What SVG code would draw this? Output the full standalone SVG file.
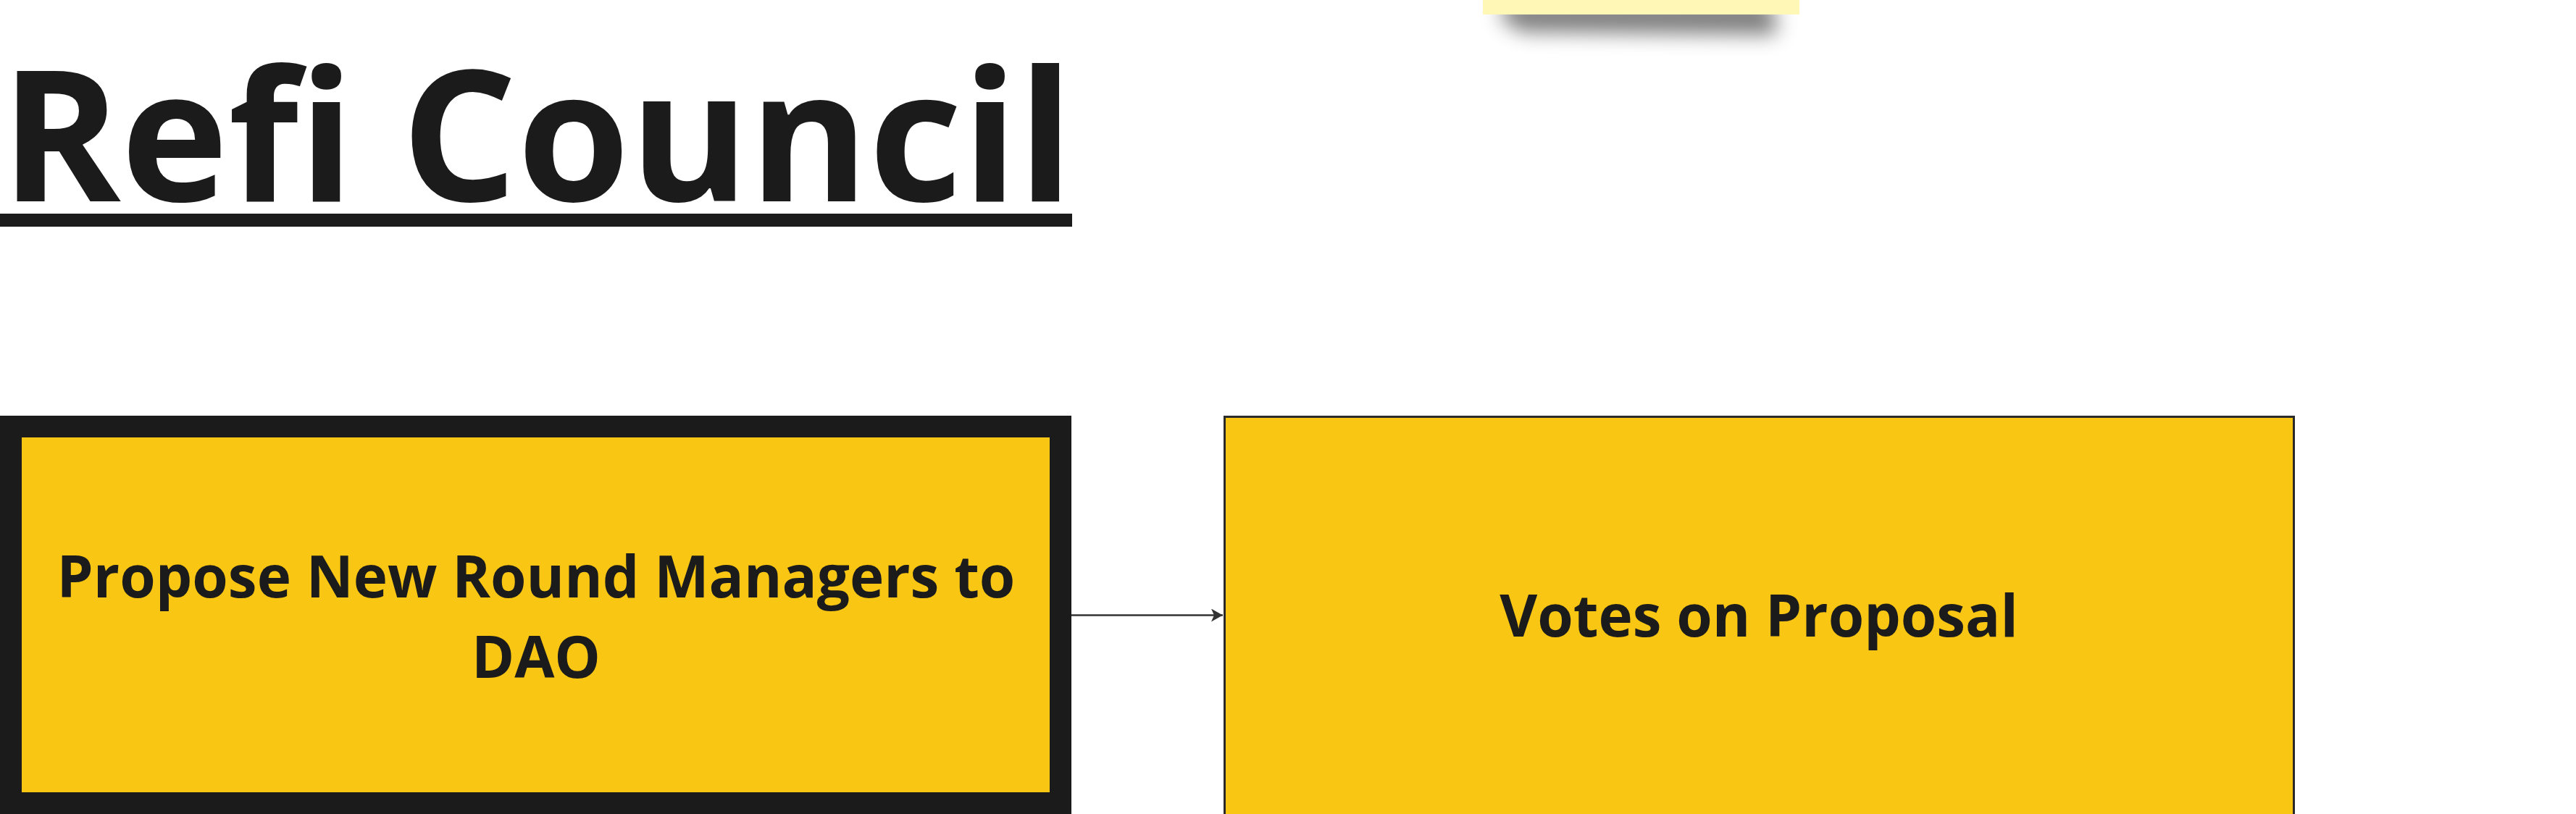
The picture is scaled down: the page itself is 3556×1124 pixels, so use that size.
<svg xmlns="http://www.w3.org/2000/svg" width="3556" height="1124" viewBox="0 0 3556 1124">
<style>
  .t { font-family: "Open Sans", "Noto Sans", "DejaVu Sans", sans-serif; font-weight: 700; fill: #1b1b1b; font-variant-ligatures: none; }
  .lbl { font-size: 80px; text-anchor: middle; }
  .yel { fill: #f9c613; }
  .conn { stroke: #333333; stroke-width: 2.5; fill: none; }
</style>
<defs>
  <filter id="blur" x="-20%" y="-100%" width="140%" height="300%">
    <feGaussianBlur stdDeviation="14"/>
  </filter>
  <marker id="arr" viewBox="0 0 16 18" refX="16" refY="9" markerWidth="16" markerHeight="18" markerUnits="userSpaceOnUse" orient="auto">
    <path d="M0,0 L16,9 L0,18 L4,9 Z" fill="#333333"/>
  </marker>
</defs>
<rect width="3556" height="1124" fill="#ffffff"/>

<g id="sticky">
  <polygon points="2080,0 2440,0 2455,34 2448,48 2100,44 2070,24" fill="#000000" opacity="0.5" filter="url(#blur)"/>
  <rect x="2047" y="-20" width="437" height="40" fill="#fff7b5"/>
</g>

<g id="title">
  <text class="t" x="1" y="278" font-size="251">Refi Council</text>
  <rect x="0" y="295" width="1480" height="18" fill="#1b1b1b"/>
</g>

<g id="connectors">
  <line class="conn" x1="1479" y1="849.5" x2="1688" y2="849.5" marker-end="url(#arr)"/>
</g>

<g id="node-propose">
  <rect x="-10" y="574" width="1489" height="560" fill="#1b1b1b"/>
  <rect class="yel" x="30" y="604" width="1419" height="490"/>
  <text class="t lbl" x="740" y="825">Propose New Round Managers to</text>
  <text class="t lbl" x="740" y="936">DAO</text>
</g>

<g id="node-votes">
  <rect class="yel" x="1690.5" y="575.5" width="1476" height="560" stroke="#2a2a2a" stroke-width="3"/>
  <text class="t lbl" x="2428" y="879">Votes on Proposal</text>
</g>
</svg>
